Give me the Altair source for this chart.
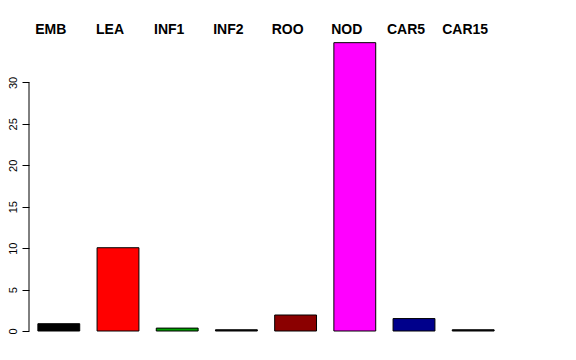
import altair as alt
import pandas as pd

categories = ["EMB", "LEA", "INF1", "INF2", "ROO", "NOD", "CAR5", "CAR15"]
values = [0.88, 10.05, 0.35, 0.15, 1.93, 34.8, 1.5, 0.15]
colors = ["#000000", "#FF0000", "#00A000", "#111111", "#8B0000", "#FF00FF", "#00008B", "#111111"]
y_ticks = [0, 5, 10, 15, 20, 25, 30]

df = pd.DataFrame({"cat": categories, "val": values})

FONT = "Liberation Sans"

bars = alt.Chart(df).mark_bar(stroke="black", strokeWidth=1).encode(
    x=alt.X(
        "cat:N",
        sort=categories,
        title=None,
        scale=alt.Scale(paddingInner=0.293, paddingOuter=0.15),
        axis=alt.Axis(
            orient="top",
            domain=False,
            ticks=False,
            tickSize=0,
            labelAngle=0,
            labelFont=FONT,
            labelFontSize=14,
            labelFontWeight="bold",
            labelColor="black",
            labelPadding=7.7,
            labelBaseline="alphabetic",
            labelOffset=-8,
        ),
    ),
    y=alt.Y(
        "val:Q",
        title=None,
        scale=alt.Scale(domain=[0, 35], nice=False, zero=True),
        axis=alt.Axis(
            values=y_ticks,
            domain=False,
            grid=False,
            tickSize=7,
            tickColor="black",
            labelAngle=270,
            labelAlign="center",
            labelBaseline="alphabetic",
            labelPadding=6,
            labelFont=FONT,
            labelFontSize=11,
            labelColor="black",
        ),
    ),
    color=alt.Color(
        "cat:N",
        scale=alt.Scale(domain=categories, range=colors),
        legend=None,
    ),
)

axis_line = alt.Chart(pd.DataFrame({"a": [0], "b": [30]})).mark_rule(
    color="black", strokeWidth=1
).encode(
    x=alt.value(0),
    y=alt.Y("a:Q", scale=alt.Scale(domain=[0, 35], nice=False)),
    y2="b:Q",
)

chart = alt.layer(bars, axis_line).properties(
    width=474,
    height=290,
    background="white",
    autosize=alt.AutoSizeParams(type="none"),
    padding={"left": 29, "top": 41, "right": 73, "bottom": 29},
).configure_view(strokeWidth=0)

chart.save("out.html", embed_options={"renderer": "svg", "actions": False})
